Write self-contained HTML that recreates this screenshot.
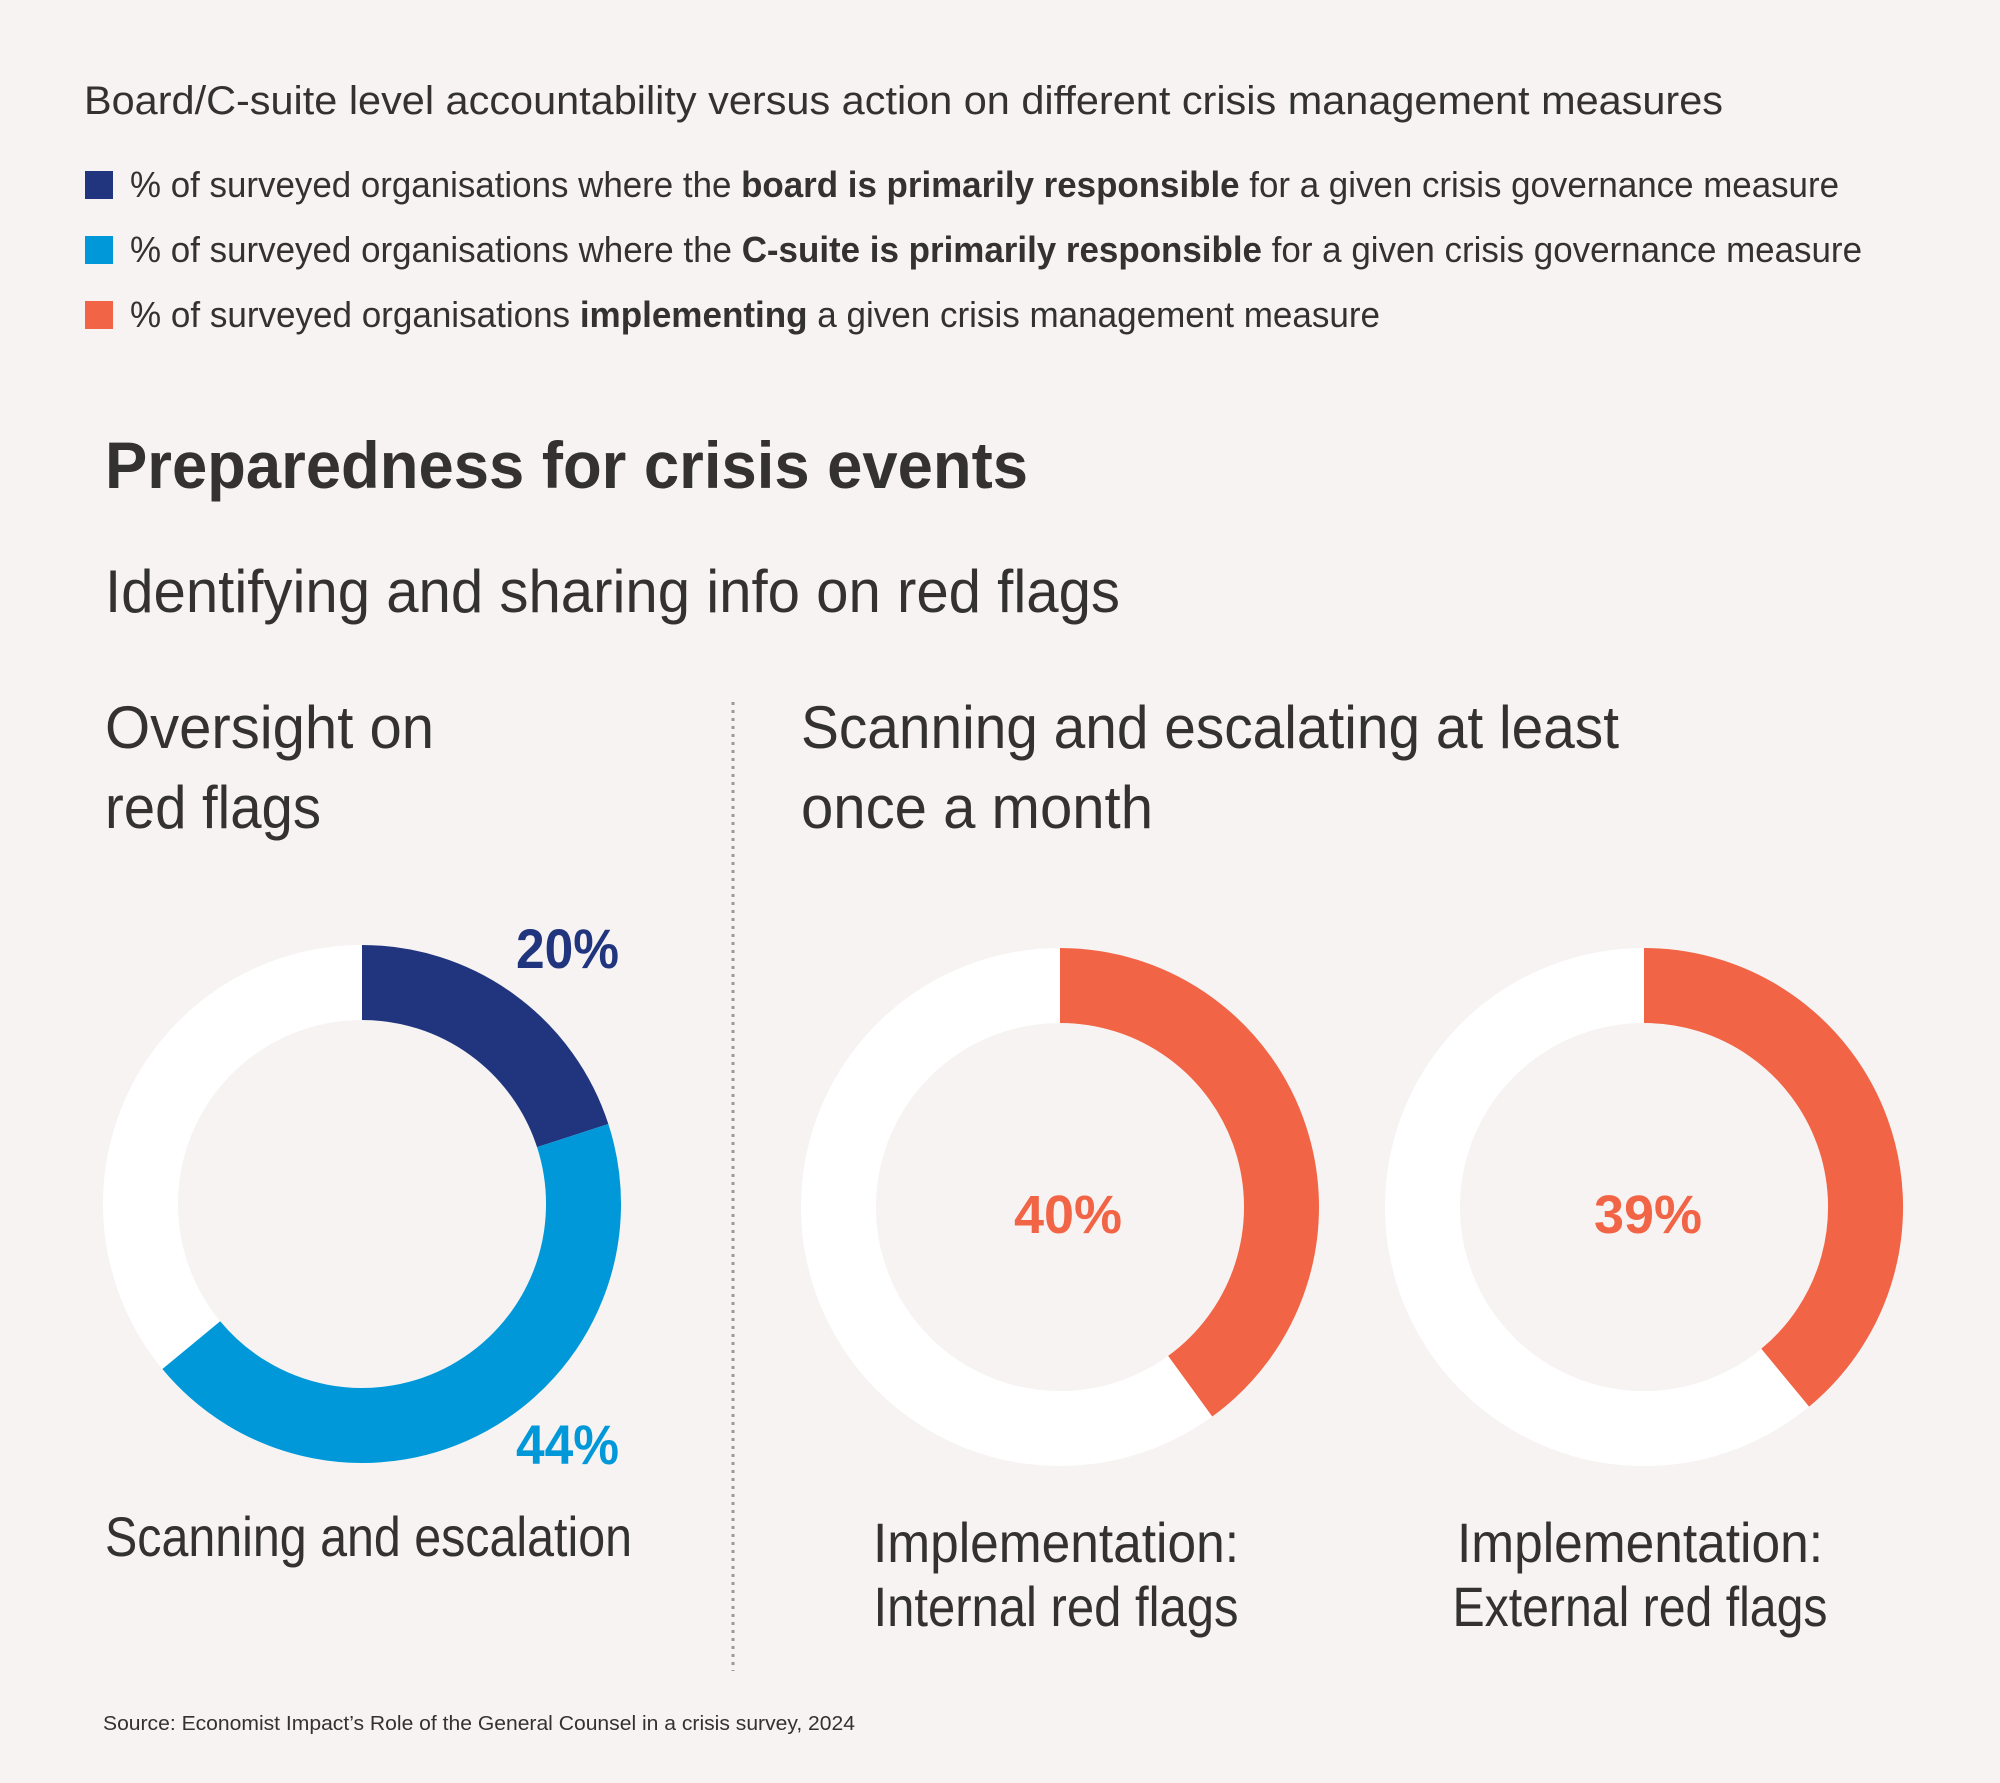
<!DOCTYPE html>
<html><head><meta charset="utf-8"><style>
html,body{margin:0;padding:0;background:#f6f3f2;}
svg{display:block;}
text{font-family:"Liberation Sans",sans-serif;fill:#333231;}
.b{font-weight:bold;}
</style></head><body>
<svg width="2000" height="1783" viewBox="0 0 2000 1783" xmlns="http://www.w3.org/2000/svg">
<rect width="2000" height="1783" fill="#f6f3f2"/>
<text x="84" y="114" font-size="40" textLength="1639" lengthAdjust="spacingAndGlyphs">Board/C-suite level accountability versus action on different crisis management measures</text>
<rect x="85" y="171" width="28" height="28" fill="#21357f"/>
<rect x="85" y="236" width="28" height="28" fill="#0098d9"/>
<rect x="85" y="301" width="28" height="28" fill="#f26446"/>
<text x="130" y="197" font-size="36" textLength="1709" lengthAdjust="spacingAndGlyphs">% of surveyed organisations where the <tspan class="b">board is primarily responsible</tspan> for a given crisis governance measure</text>
<text x="130" y="262" font-size="36" textLength="1732" lengthAdjust="spacingAndGlyphs">% of surveyed organisations where the <tspan class="b">C-suite is primarily responsible</tspan> for a given crisis governance measure</text>
<text x="130" y="327" font-size="36" textLength="1250" lengthAdjust="spacingAndGlyphs">% of surveyed organisations <tspan class="b">implementing</tspan> a given crisis management measure</text>
<text x="105" y="488" font-size="66" class="b" textLength="923" lengthAdjust="spacingAndGlyphs">Preparedness for crisis events</text>
<text x="105" y="612" font-size="60" textLength="1015" lengthAdjust="spacingAndGlyphs">Identifying and sharing info on red flags</text>
<text x="105" y="748" font-size="60" textLength="329" lengthAdjust="spacingAndGlyphs">Oversight on</text>
<text x="105" y="828" font-size="60" textLength="216" lengthAdjust="spacingAndGlyphs">red flags</text>
<text x="801" y="748" font-size="60" textLength="818" lengthAdjust="spacingAndGlyphs">Scanning and escalating at least</text>
<text x="801" y="828" font-size="60" textLength="352" lengthAdjust="spacingAndGlyphs">once a month</text>
<line x1="733" y1="702" x2="733" y2="1671" stroke="#999" stroke-width="3" stroke-dasharray="3 5"/>
<!-- donut 1 -->
<circle cx="362" cy="1204" r="221.5" fill="none" stroke="#fff" stroke-width="75"/>
<path d="M362 982.5 A221.5 221.5 0 0 1 572.7 1135.6" fill="none" stroke="#21357f" stroke-width="75"/>
<path d="M572.7 1135.6 A221.5 221.5 0 0 1 191.3 1345.1" fill="none" stroke="#0098d9" stroke-width="75"/>
<text x="516" y="968" font-size="56" class="b" style="fill:#21357f" textLength="103" lengthAdjust="spacingAndGlyphs">20%</text>
<text x="516" y="1464" font-size="56" class="b" style="fill:#0098d9" textLength="103" lengthAdjust="spacingAndGlyphs">44%</text>
<text x="105" y="1556" font-size="56" textLength="527" lengthAdjust="spacingAndGlyphs">Scanning and escalation</text>
<!-- donut 2 -->
<circle cx="1060" cy="1207" r="221.5" fill="none" stroke="#fff" stroke-width="75"/>
<path d="M1060 985.5 A221.5 221.5 0 0 1 1190.2 1386.2" fill="none" stroke="#f26446" stroke-width="75"/>
<text x="1068" y="1233" font-size="54" class="b" text-anchor="middle" style="fill:#f26446">40%</text>
<text x="1056" y="1562" font-size="56" text-anchor="middle" textLength="366" lengthAdjust="spacingAndGlyphs">Implementation:</text>
<text x="1056" y="1626" font-size="56" text-anchor="middle" textLength="365" lengthAdjust="spacingAndGlyphs">Internal red flags</text>
<!-- donut 3 -->
<circle cx="1644" cy="1207" r="221.5" fill="none" stroke="#fff" stroke-width="75"/>
<path d="M1644 985.5 A221.5 221.5 0 0 1 1785.2 1377.7" fill="none" stroke="#f26446" stroke-width="75"/>
<text x="1648" y="1233" font-size="54" class="b" text-anchor="middle" style="fill:#f26446">39%</text>
<text x="1640" y="1562" font-size="56" text-anchor="middle" textLength="366" lengthAdjust="spacingAndGlyphs">Implementation:</text>
<text x="1640" y="1626" font-size="56" text-anchor="middle" textLength="375" lengthAdjust="spacingAndGlyphs">External red flags</text>
<text x="103" y="1730" font-size="20" textLength="752" lengthAdjust="spacingAndGlyphs">Source: Economist Impact’s Role of the General Counsel in a crisis survey, 2024</text>
</svg>
</body></html>
